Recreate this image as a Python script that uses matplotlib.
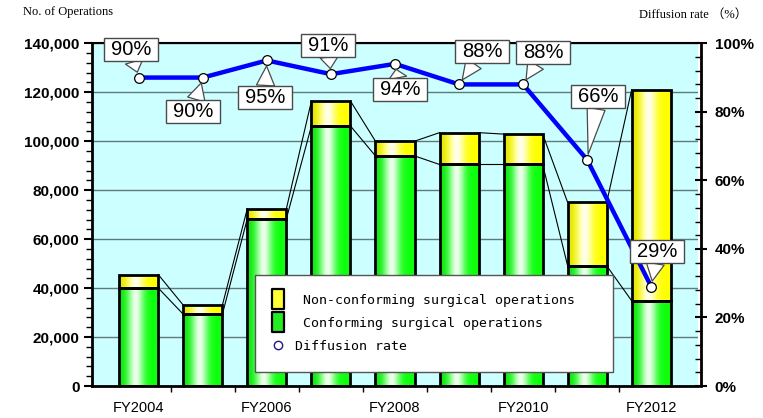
import numpy as np
import matplotlib
matplotlib.use("Agg")
import matplotlib.pyplot as plt
from matplotlib.path import Path
from matplotlib.lines import Line2D
from matplotlib.ticker import MultipleLocator, FixedLocator

plt.rcParams["font.family"] = ["Liberation Sans", "DejaVu Sans"]

# ---- data -------------------------------------------------------------
years = ["FY2004", "FY2005", "FY2006", "FY2007", "FY2008",
         "FY2009", "FY2010", "FY2011", "FY2012"]
conforming = [40000, 29300, 68400, 106200, 94000, 90500, 90500, 49100, 34800]
non_conforming = [5500, 3700, 4100, 10200, 6000, 13000, 12400, 25900, 86300]
diffusion_rate = [90, 90, 95, 91, 94, 88, 88, 66, 29]
rate_labels = ["90%", "90%", "95%", "91%", "94%", "88%", "88%", "66%", "29%"]
count_ticks = [0, 20000, 40000, 60000, 80000, 100000, 120000, 140000]
rate_ticks = [0, 20, 40, 60, 80, 100]

# label offsets (pixels) of each rate callout relative to its point
label_offsets = [(-8, 28), (-10, -34), (-2, -37), (-3, 29), (5, -26),
                 (23, 33), (20, 32), (11, 63), (6, 35)]

# ---- figure -----------------------------------------------------------
W, H = 763, 418
fig = plt.figure(figsize=(W / 100, H / 100), dpi=100)
ax = fig.add_axes([92 / W, 1 - 386 / H, (698 - 92) / W, (386 - 43.3) / H])
ax.set_facecolor("#ccffff")

x = np.arange(len(years))
bw = 0.61

ax.grid(axis="y", which="major", color="#5f7a7a", linewidth=1.0, zorder=0)
ax.set_axisbelow(True)


def gradient_fill(bars, edge_rgb):
    """Paint each bar with a horizontal highlight gradient."""
    t = np.linspace(0, 1, 64)
    w = 0.92 * np.exp(-((t - 0.42) / 0.2) ** 2)
    edge = np.array(edge_rgb)
    left_dim = 1 - 0.12 * np.clip(1 - t / 0.3, 0, 1)
    cols = (edge[None, :] * left_dim[:, None]) * (1 - w[:, None]) + w[:, None]
    img = cols[None, :, :]
    for b in bars:
        x0, y0 = b.get_x(), b.get_y()
        x1, y1 = x0 + b.get_width(), y0 + b.get_height()
        im = ax.imshow(img, extent=(x0, x1, y0, y1), aspect="auto",
                       origin="lower", zorder=2, interpolation="bilinear")
        im.set_clip_path(b)
        b.set_facecolor("none")


bars_c = ax.bar(x, conforming, bw, edgecolor="black", linewidth=2.0, zorder=3)
bars_n = ax.bar(x, non_conforming, bw, bottom=conforming,
                edgecolor="black", linewidth=2.0, zorder=3)
gradient_fill(bars_c, (0.05, 1.0, 0.05))
gradient_fill(bars_n, (1.0, 1.0, 0.0))
ax.set_xlim(-0.73, len(years) - 1 + 0.73)
ax.set_ylim(0, 140000)

# series lines joining the bar segment tops
totals = np.array(conforming) + np.array(non_conforming)
for tops in (np.array(conforming), totals):
    for i in range(len(years) - 1):
        ax.plot([x[i] + bw / 2, x[i + 1] - bw / 2], [tops[i], tops[i + 1]],
                color="black", linewidth=0.8, zorder=2.5)

# axes styling
for s in ("left", "bottom"):
    ax.spines[s].set_linewidth(2.0)
    ax.spines[s].set_color("black")
ax.spines["right"].set_visible(False)
ax.spines["top"].set_linewidth(1.5)

ax.set_yticks(count_ticks)
ax.set_yticklabels([f"{v:,}" for v in count_ticks], fontweight="bold",
                   fontsize=11)
ax.yaxis.set_minor_locator(MultipleLocator(4000))
ax.tick_params(axis="y", which="major", direction="out", length=6, width=1.5,
               pad=3)
ax.tick_params(axis="y", which="minor", direction="out", length=4, width=1.0)

ax.set_xticks(x[::2])
ax.set_xticklabels(years[::2], fontsize=10.5)
ax.xaxis.set_minor_locator(FixedLocator(x[:-1] + 0.5))
ax.tick_params(axis="x", which="major", length=0, pad=11)
ax.tick_params(axis="x", which="minor", direction="out", length=4, width=1.0)

# ---- diffusion rate ---------------------------------------------------
ax2 = ax.twinx()
ax2.set_ylim(0, 100)
ax2.set_xlim(ax.get_xlim())
for s in ("left", "bottom", "top"):
    ax2.spines[s].set_visible(False)
ax2.spines["right"].set_position(("outward", 2))
ax2.spines["right"].set_linewidth(2.0)
ax2.set_yticks(rate_ticks)
ax2.set_yticklabels([f"{v}%" for v in rate_ticks], fontweight="bold",
                    fontsize=11)
ax2.yaxis.set_minor_locator(MultipleLocator(4))
ax2.tick_params(axis="y", which="major", direction="inout", length=8,
                width=1.5, pad=6)
ax2.tick_params(axis="y", which="minor", direction="in", length=4, width=1.0)

ax2.plot(x, diffusion_rate, color="#0000ff", linewidth=3.2, zorder=4,
         marker="o", markersize=7, markerfacecolor="white",
         markeredgecolor="black", markeredgewidth=0.9)


def callout_box(x0, y0, width, height, mutation_size):
    padx, pady = 0.34 * mutation_size, 0.1 * mutation_size
    x0, y0 = x0 - padx, y0 - pady
    x1, y1 = x0 + width + 2 * padx, y0 + height + 2 * pady
    return Path([(x0, y0), (x1, y0), (x1, y1), (x0, y1), (x0, y0)],
                closed=True)


for xi, r, lab, (dx, dy) in zip(x, diffusion_rate, rate_labels, label_offsets):
    ax2.annotate(lab, xy=(xi, r), xytext=(dx, dy), textcoords="offset pixels",
                 ha="center", va="center", fontsize=14.5, zorder=6,
                 bbox=dict(boxstyle=callout_box, fc="white", ec="#4a4a4a",
                           lw=1.0),
                 arrowprops=dict(arrowstyle="wedge,tail_width=0.9",
                                 fc="white", ec="#4a4a4a", lw=0.9,
                                 shrinkA=0, shrinkB=4))

# ---- legend -----------------------------------------------------------
rect = Path([(-0.32, -0.5), (0.32, -0.5), (0.32, 0.5), (-0.32, 0.5),
             (-0.32, -0.5)], closed=True)
handles = [
    Line2D([], [], linestyle="none", marker=rect, markersize=14,
           markerfacecolor="#ffff33", markeredgecolor="black",
           markeredgewidth=1.6),
    Line2D([], [], linestyle="none", marker=rect, markersize=14,
           markerfacecolor="#22ee22", markeredgecolor="black",
           markeredgewidth=1.6),
    Line2D([], [], linestyle="none", marker="o", markersize=6,
           markerfacecolor="white", markeredgecolor="#1a1a8a",
           markeredgewidth=1.0),
]
labels = [" Non-conforming surgical operations",
          " Conforming surgical operations",
          "Diffusion rate"]
ax_w = 698 - 92
ax_h = 386 - 43.3
leg = ax2.legend(handles, labels, loc="upper left",
                 bbox_to_anchor=((255 - 92) / ax_w, (386 - 275) / ax_h,
                                 (613 - 255) / ax_w, 0.001),
                 mode="expand", borderaxespad=0, frameon=True,
                 fancybox=False, framealpha=1, edgecolor="#555555",
                 prop={"family": "DejaVu Sans Mono", "size": 9.5},
                 borderpad=1.45, labelspacing=0.75, handlelength=0.6,
                 handletextpad=1.0)
leg.get_frame().set_linewidth(1.0)
leg.set_zorder(10)

# ---- axis titles ------------------------------------------------------
fig.text(23 / W, 1 - 12 / H, "No. of Operations", ha="left", va="center",
         fontsize=9, family=["Liberation Serif", "Noto Sans CJK JP"])
fig.text(747 / W, 1 - 15 / H, "Diffusion rate （%）", ha="right",
         va="center", fontsize=9,
         family=["Liberation Serif", "Noto Sans CJK JP"])

fig.savefig("out.png", dpi=100)
